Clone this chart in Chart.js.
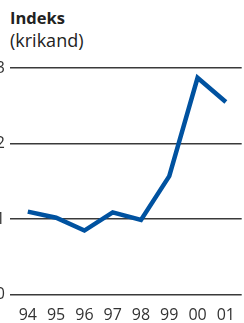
<!DOCTYPE html>
<html>
<head>
<meta charset="utf-8">
<script src="https://cdn.jsdelivr.net/npm/chart.js@4/dist/chart.umd.min.js"></script>
<style>
  html, body { margin: 0; padding: 0; background: #fff; }
  #wrap { position: relative; width: 244px; height: 323px; overflow: hidden; }
  .ttl { position: absolute; left: 10px; font-family: "Open Sans", sans-serif; color: #222; white-space: nowrap; line-height: 1; }
  #t1 { top: 10px; font-size: 16.5px; font-weight: bold; }
  #t2 { top: 31px; font-size: 18px; }
  #box { position: absolute; left: -10px; top: 0; width: 256px; height: 336px; }
</style>
</head>
<body>
<div id="wrap">
  <div class="ttl" id="t1">Indeks</div>
  <div class="ttl" id="t2">(krikand)</div>
  <div id="box"><canvas id="chart"></canvas></div>
</div>
<script>
// years on the x axis and the index values
const years = ['94', '95', '96', '97', '98', '99', '00', '01'];
const indexValues = [1.10, 1.02, 0.85, 1.09, 0.99, 1.57, 2.87, 2.55];
const yTicks = [0, 1, 2, 3];

const points = years.map(function(y, i) { return { x: i, y: indexValues[i] }; });

new Chart('chart', {
    type: 'line',
    data: {
        datasets: [{
            data: points,
            borderColor: '#0052a0',
            borderWidth: 4.5,
            borderJoinStyle: 'miter',
            borderCapStyle: 'butt',
            pointRadius: 0,
            tension: 0,
            fill: false
        }]
    },
    options: {
        responsive: true,
        maintainAspectRatio: false,
        animation: false,
        layout: { padding: { top: 68, right: 0, bottom: 0, left: 0 } },
        plugins: { legend: { display: false }, tooltip: { enabled: false } },
        scales: {
            x: {
                type: 'linear',
                min: -0.63,
                max: 7.56,
                grid: { display: false, drawTicks: false },
                border: { display: false },
                ticks: {
                    stepSize: 1,
                    includeBounds: false,
                    autoSkip: false,
                    maxRotation: 0,
                    padding: 11,
                    color: '#333',
                    font: { family: 'Open Sans', size: 16 },
                    callback: function(v) { return years[v] !== undefined && Number.isInteger(v) ? years[v] : ''; }
                }
            },
            y: {
                min: 0,
                max: 3,
                afterFit: function(scale) { scale.width = 20; },
                afterBuildTicks: function(scale) { scale.ticks = yTicks.map(function(v) { return { value: v }; }); },
                grid: { color: '#3a3a3a', lineWidth: 1.5, drawTicks: false },
                border: { display: false },
                ticks: {
                    padding: 5,
                    color: '#333',
                    font: { family: 'Open Sans', size: 16 }
                }
            }
        }
    }
});
</script>
</body>
</html>
